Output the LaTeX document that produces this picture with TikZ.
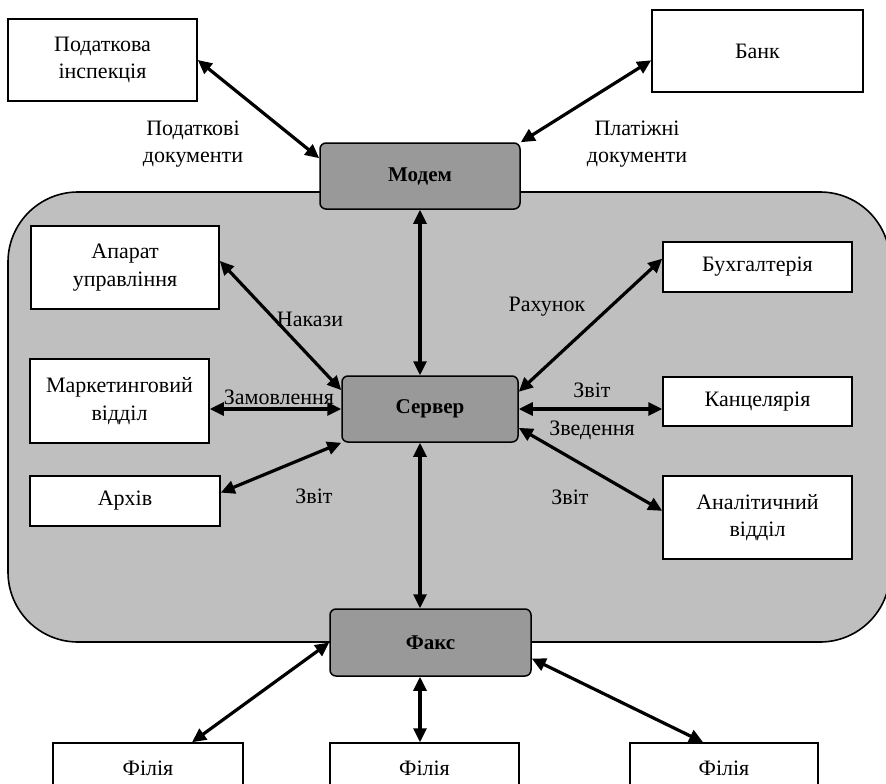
\documentclass[tikz,border=0pt]{standalone}
\usepackage{fontspec}
\setmainfont{Liberation Serif}
\usetikzlibrary{arrows.meta,calc}
\tikzset{box/.style={draw,fill=white,line width=1.5pt,align=center,inner sep=2pt},
hub/.style={draw,fill=gray!80!white,line width=1.5pt,rounded corners=6pt,font=\fontsize{21}{25}\selectfont\bfseries},
zone/.style={draw,fill=black!25,line width=1.6pt,rounded corners=70pt},
lbl/.style={align=center,inner sep=0pt},
arr/.style={{Triangle[length=14pt,width=13pt]}-{Triangle[length=14pt,width=13pt]},line width=3.2pt}
}
\begin{document}
\begin{tikzpicture}[x=1pt,y=-1pt,font=\fontsize{22}{27.5}\selectfont]
  \clip (0,0) rectangle (886,784);
  \draw[zone] (8,192) rectangle (890,642);

  \node[box,minimum width=189pt,minimum height=82pt] (podat)   at (102.5,60)  {Податкова\\інспекція};
  \node[box,minimum width=211pt,minimum height=82pt] (bank)    at (757.5,51)  {Банк};
  \node[hub,minimum width=200pt,minimum height=66pt] (modem)   at (420,176)   {Модем};
  \node[box,minimum width=188pt,minimum height=83pt] (apparat) at (125,267.5) {Апарат\\управління};
  \node[box,minimum width=189pt,minimum height=50pt] (buh)     at (757.5,267) {Бухгалтерія};
  \node[box,minimum width=179pt,minimum height=84pt] (market)  at (119.5,401) {Маркетинговий\\відділ};
  \node[box,minimum width=190pt,minimum height=50pt] (arch)    at (125,501)   {Архів};
  \node[hub,minimum width=176pt,minimum height=66pt] (server)  at (430,409)   {Сервер};
  \node[box,minimum width=189pt,minimum height=49pt] (kanc)    at (757.5,401.5) {Канцелярія};
  \node[box,minimum width=189pt,minimum height=83pt] (anal)    at (757.5,517.5) {Аналітичний\\відділ};
  \node[hub,minimum width=201pt,minimum height=67pt] (fax)     at (430.5,642.5) {Факс};
  \node[box,minimum width=190pt,minimum height=50pt] (fil1)    at (148,768)   {Філія};
  \node[box,minimum width=189pt,minimum height=50pt] (fil2)    at (424.5,768) {Філія};
  \node[box,minimum width=188pt,minimum height=50pt] (fil3)    at (724,768)   {Філія};

  % labels
  \node[lbl] (lpodat) at (193,144) {Податкові\\документи};
  \node[lbl] (lbank)  at (637,144) {Платіжні\\документи};
  \node[lbl] (lnak)   at (310,319) {Накази};
  \node[lbl] (lrah)   at (547,307) {Рахунок};
  \node[lbl] (lzam)   at (279,397) {Замовлення};
  \node[lbl] (larch)  at (314,496) {Звіт};
  \node[lbl] (lkanc)  at (592,390) {Звіт};
  \node[lbl] (lzved)  at (592,430) {Зведення};
  \node[lbl] (lanal)  at (570,497) {Звіт};

  % connectors
  \draw[arr] (podat.east) -- (modem.170);
  \draw[arr] (bank.185) -- (modem.north east);
  \draw[arr] (modem.south) -- (server.north -| modem.south);
  \draw[arr] (apparat.4) -- (server.168);
  \draw[arr] (buh.175) -- (server.11);
  \draw[arr] (server.west -| market.east) -- (server.west);
  \draw[arr] (arch.5) -- (server.south west);
  \draw[arr] (server.east) -- (server.east -| kanc.west);
  \draw[arr] (server.-12) -- (anal.176);
  \draw[arr] (server.south -| modem.south) -- (fax.north -| modem.south);
  \draw[arr] (fax.west) -- ($(fil1.north)!0.46!(fil1.north east)$);
  \draw[arr] (fax.south -| modem.south) -- (fil2.north -| modem.south);
  \draw[arr] (fax.-9) -- ($(fil3.north)!0.22!(fil3.north west)$);
\end{tikzpicture}
\end{document}
